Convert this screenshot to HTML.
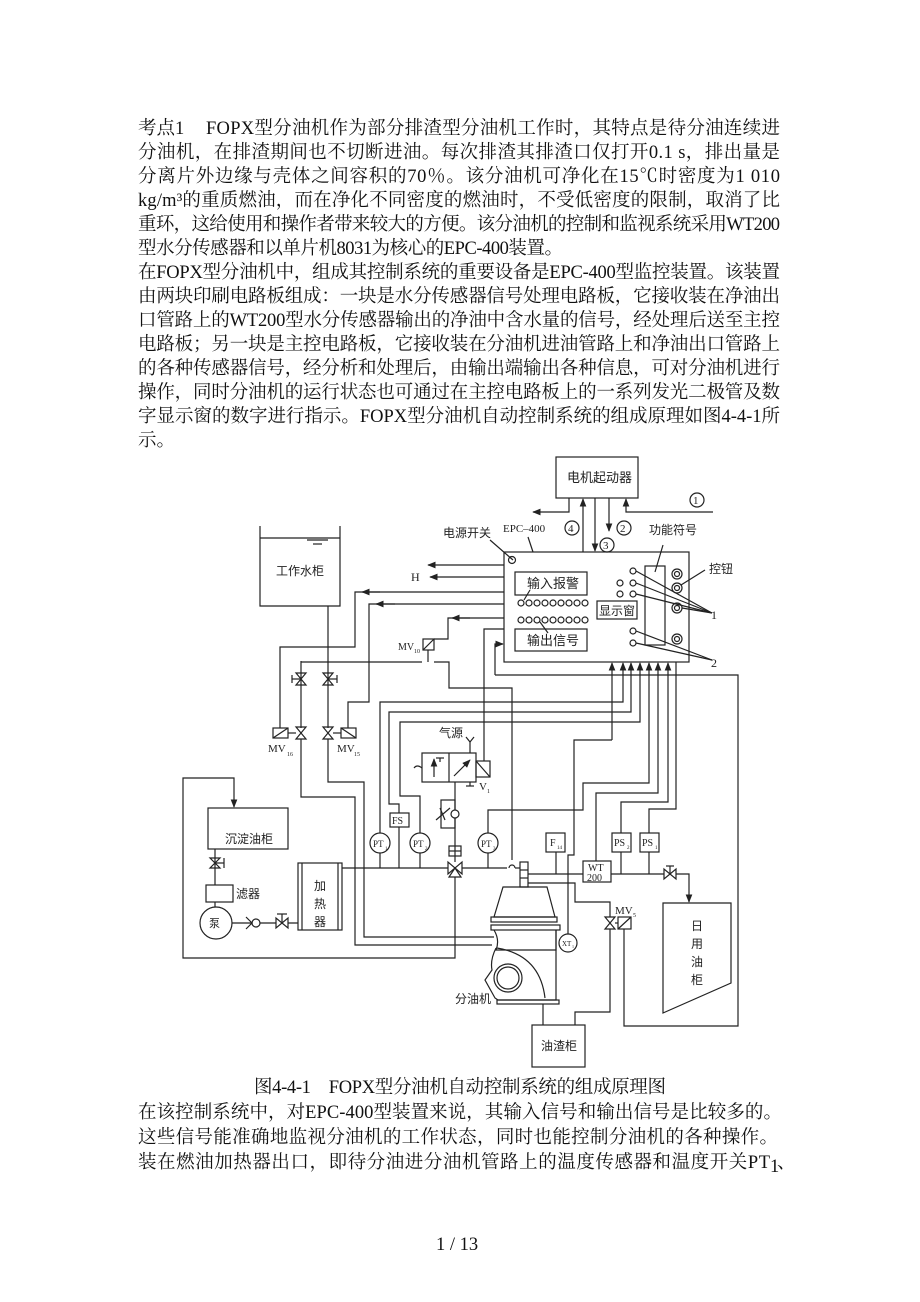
<!DOCTYPE html>
<html><head><meta charset="utf-8"><style>
html,body{margin:0;padding:0;background:#fff;}
svg{display:block;}
.t{font-family:"Liberation Serif","Noto Serif CJK SC",serif;font-size:18.5px;fill:#111;}
.d{font-family:"Liberation Serif","Noto Sans CJK SC",sans-serif;font-size:12px;fill:#222;}
</style></head><body>
<svg width="920" height="1302" viewBox="0 0 920 1302" xmlns="http://www.w3.org/2000/svg">
<defs>
<marker id="a" viewBox="0 0 10 10" refX="9" refY="5" markerWidth="7" markerHeight="7" orient="auto-start-reverse"><path d="M0,1 L10,5 L0,9 z" fill="#222"/></marker>
</defs>
<rect width="920" height="1302" fill="#fff"/>
<!-- body text -->
<text class="t" x="138" y="134">考点1</text>
<text class="t" x="206" y="134" textLength="574" lengthAdjust="spacing">FOPX型分油机作为部分排渣型分油机工作时，其特点是待分油连续进</text>
<text class="t" x="138" y="158" textLength="642" lengthAdjust="spacing">分油机，在排渣期间也不切断进油。每次排渣其排渣口仅打开0.1 s，排出量是</text>
<text class="t" x="138" y="182" textLength="642" lengthAdjust="spacing">分离片外边缘与壳体之间容积的70％。该分油机可净化在15℃时密度为1 010</text>
<text class="t" x="138" y="206" textLength="642" lengthAdjust="spacing">kg/m³的重质燃油，而在净化不同密度的燃油时，不受低密度的限制，取消了比</text>
<text class="t" x="138" y="230" textLength="642" lengthAdjust="spacing">重环，这给使用和操作者带来较大的方便。该分油机的控制和监视系统采用WT200</text>
<text class="t" x="138" y="254" textLength="425" lengthAdjust="spacing">型水分传感器和以单片机8031为核心的EPC-400装置。</text>
<text class="t" x="138" y="278" textLength="642" lengthAdjust="spacing">在FOPX型分油机中，组成其控制系统的重要设备是EPC-400型监控装置。该装置</text>
<text class="t" x="138" y="302" textLength="642" lengthAdjust="spacing">由两块印刷电路板组成：一块是水分传感器信号处理电路板，它接收装在净油出</text>
<text class="t" x="138" y="326" textLength="642" lengthAdjust="spacing">口管路上的WT200型水分传感器输出的净油中含水量的信号，经处理后送至主控</text>
<text class="t" x="138" y="350" textLength="642" lengthAdjust="spacing">电路板；另一块是主控电路板，它接收装在分油机进油管路上和净油出口管路上</text>
<text class="t" x="138" y="374" textLength="642" lengthAdjust="spacing">的各种传感器信号，经分析和处理后，由输出端输出各种信息，可对分油机进行</text>
<text class="t" x="138" y="398" textLength="642" lengthAdjust="spacing">操作，同时分油机的运行状态也可通过在主控电路板上的一系列发光二极管及数</text>
<text class="t" x="138" y="422" textLength="642" lengthAdjust="spacing">字显示窗的数字进行指示。FOPX型分油机自动控制系统的组成原理如图4-4-1所</text>
<text class="t" x="138" y="446">示。</text>
<text class="t" x="254" y="1093" textLength="412" lengthAdjust="spacing">图4-4-1　FOPX型分油机自动控制系统的组成原理图</text>
<text class="t" x="138" y="1118" textLength="644" lengthAdjust="spacing">在该控制系统中，对EPC-400型装置来说，其输入信号和输出信号是比较多的。</text>
<text class="t" x="138" y="1143" textLength="640" lengthAdjust="spacing">这些信号能准确地监视分油机的工作状态，同时也能控制分油机的各种操作。</text>
<text class="t" x="138" y="1168" textLength="632" lengthAdjust="spacing">装在燃油加热器出口，即待分油进分油机管路上的温度传感器和温度开关PT</text>
<text class="t" x="770" y="1172" font-size="11">1</text><text class="t" x="777" y="1168">、</text>
<text class="t" x="436" y="1250" font-size="16">1 / 13</text>

<g fill="none" stroke="#222" stroke-width="1.2">
<rect x="556" y="457" width="82" height="41"/>
<polyline points="569,498 569,512 533,512" marker-end="url(#a)"/>
<line x1="583" y1="552" x2="583" y2="499" marker-end="url(#a)"/>
<line x1="595" y1="498" x2="595" y2="551" marker-end="url(#a)"/>
<line x1="609" y1="498" x2="609" y2="531" marker-end="url(#a)"/>
<polyline points="713,512 626,512 626,499" marker-end="url(#a)"/>
<circle cx="697" cy="500" r="7"/><circle cx="572" cy="528" r="7"/><circle cx="624" cy="528" r="7"/><circle cx="607" cy="545" r="7"/>
<rect x="504" y="552" width="185" height="110"/>
<line x1="533" y1="552" x2="528" y2="537"/>
<line x1="513" y1="560" x2="490" y2="540"/>
<circle cx="512" cy="560" r="3.5"/>
<rect x="515" y="572" width="72" height="23"/>
<rect x="515" y="629" width="72" height="22"/>
<rect x="597" y="601" width="40" height="18"/>
<rect x="645" y="566" width="20" height="79"/>
<g>
<circle cx="521" cy="603" r="3"/><circle cx="529" cy="603" r="3"/><circle cx="537" cy="603" r="3"/><circle cx="545" cy="603" r="3"/><circle cx="553" cy="603" r="3"/><circle cx="561" cy="603" r="3"/><circle cx="569" cy="603" r="3"/><circle cx="577" cy="603" r="3"/><circle cx="585" cy="603" r="3"/>
<circle cx="521" cy="620" r="3"/><circle cx="529" cy="620" r="3"/><circle cx="537" cy="620" r="3"/><circle cx="545" cy="620" r="3"/><circle cx="553" cy="620" r="3"/><circle cx="561" cy="620" r="3"/><circle cx="569" cy="620" r="3"/><circle cx="577" cy="620" r="3"/><circle cx="585" cy="620" r="3"/>
</g>
<line x1="524" y1="600" x2="530" y2="590"/><line x1="540" y1="622" x2="548" y2="633"/>
<circle cx="633" cy="571" r="3"/><circle cx="633" cy="583" r="3"/><circle cx="633" cy="594" r="3"/><circle cx="620" cy="583" r="3"/><circle cx="620" cy="594" r="3"/><circle cx="633" cy="631" r="3"/><circle cx="633" cy="643" r="3"/>
<circle cx="677" cy="574" r="5"/><circle cx="677" cy="574" r="2.5"/>
<circle cx="677" cy="588" r="5"/><circle cx="677" cy="588" r="2.5"/>
<circle cx="677" cy="608" r="5"/><circle cx="677" cy="608" r="2.5"/>
<circle cx="677" cy="639" r="5"/><circle cx="677" cy="639" r="2.5"/>
<line x1="655" y1="572" x2="663" y2="545"/>
<line x1="681" y1="585" x2="705" y2="570"/>
<polyline points="636,571 712,613"/><polyline points="636,583 712,613"/><polyline points="636,594 712,613"/><line x1="682" y1="608" x2="712" y2="613"/>
<polyline points="636,631 712,660"/><polyline points="636,643 712,660"/>
<line x1="504" y1="565" x2="428" y2="565" marker-end="url(#a)"/>
<line x1="504" y1="577" x2="430" y2="577" marker-end="url(#a)"/>
<polyline points="504,592 355,592 355,647 280,647 280,728"/>
<line x1="380" y1="592" x2="362" y2="592" marker-end="url(#a)"/>
<polyline points="504,604 369,604 369,702 348,702 348,728"/>
<line x1="395" y1="604" x2="376" y2="604" marker-end="url(#a)"/>
<polyline points="504,618 448,618 448,639 434,639"/>
<line x1="470" y1="618" x2="452" y2="618" marker-end="url(#a)"/>
<polyline points="504,629 484,629 484,761"/>
<polyline points="495,675 495,644 503,644" marker-end="url(#a)"/>
<polyline points="495,675 738,675 738,1026 624,1026 624,929"/>
<polyline points="260,526 260,606 340,606 340,526"/>
<line x1="260" y1="538" x2="340" y2="538"/>
<line x1="307" y1="540" x2="328" y2="540"/><line x1="313" y1="544" x2="322" y2="544"/>
<line x1="328" y1="606" x2="328" y2="728"/>
<polyline points="301,661 301,728"/>
<line x1="301" y1="662" x2="422" y2="662"/>
<rect x="423" y="639" width="11" height="11"/><line x1="423" y1="650" x2="434" y2="639"/>
<line x1="428" y1="650" x2="428" y2="662"/>
<polyline points="434,662 449,662 449,688 512,688 512,860"/>
<path d="M296,673 L306,673 L296,685 L306,685 Z"/><line x1="292" y1="675" x2="292" y2="683"/><line x1="292" y1="679" x2="301" y2="679"/>
<path d="M323,673 L333,673 L323,685 L333,685 Z"/><line x1="337" y1="675" x2="337" y2="683"/><line x1="328" y1="679" x2="337" y2="679"/>
<path d="M296,727 L306,727 L296,739 L306,739 Z"/>
<path d="M323,727 L333,727 L323,739 L333,739 Z"/>
<rect x="273" y="728" width="15" height="10"/><line x1="273" y1="738" x2="288" y2="728"/><line x1="288" y1="733" x2="296" y2="733"/>
<rect x="341" y="728" width="15" height="10"/><line x1="341" y1="728" x2="356" y2="738"/><line x1="333" y1="733" x2="341" y2="733"/>
<polyline points="301,739 301,797 355,797 355,945 492,945"/>
<polyline points="328,739 328,782 364,782 364,937 494,937"/>
<polyline points="612,740 612,663" marker-end="url(#a)"/>
<polyline points="380,833 380,702 623,702 623,663" marker-end="url(#a)"/>
<polyline points="399,813 399,804 389,804 389,712 631,712 631,663" marker-end="url(#a)"/>
<polyline points="420,833 420,796 400,796 400,722 640,722 640,663" marker-end="url(#a)"/>
<polyline points="488,833 488,810 583,810 583,783 649,783 649,663" marker-end="url(#a)"/>
<polyline points="596,861 596,793 658,793 658,663" marker-end="url(#a)"/>
<polyline points="621,833 621,802 668,802 668,663" marker-end="url(#a)"/>
<polyline points="649,833 649,809 676,809 676,662"/>
<polyline points="612,740 574,740 574,855 568,855 568,934"/>
<polyline points="455,873 455,958 183,958 183,778 234,778 234,807" marker-end="url(#a)"/>
<rect x="208" y="808" width="80" height="41"/>
<line x1="215" y1="849" x2="215" y2="885"/>
<path d="M210,858 L220,858 L210,868 L220,868 Z"/><line x1="215" y1="863" x2="224" y2="863"/><line x1="224" y1="858" x2="224" y2="868"/>
<rect x="206" y="885" width="27" height="17"/>
<line x1="215" y1="902" x2="215" y2="907"/>
<circle cx="216" cy="923" r="16"/>
<line x1="232" y1="923" x2="298" y2="923"/>
<circle cx="256" cy="923" r="4" fill="#fff"/><polyline points="246,917 252,923 246,929"/>
<path d="M276,918 L276,928 L288,918 L288,928 Z" fill="#fff"/><line x1="282" y1="923" x2="282" y2="914"/><line x1="277" y1="914" x2="287" y2="914"/>
<rect x="298" y="863" width="44" height="67"/><line x1="302" y1="863" x2="302" y2="930"/><line x1="338" y1="863" x2="338" y2="930"/>
<line x1="342" y1="868" x2="507" y2="868"/>
<path d="M509,868 a3,3 0 0 1 6,0"/><line x1="515" y1="868" x2="520" y2="868"/>
<path d="M448,862 L448,874 L462,862 L462,874 Z" fill="#fff"/><path d="M449,877 L461,877 L455,868 Z" fill="#fff"/>
<circle cx="380" cy="843" r="10" fill="#fff"/><line x1="380" y1="853" x2="380" y2="868"/>
<circle cx="420" cy="843" r="10" fill="#fff"/><line x1="420" y1="853" x2="420" y2="868"/>
<circle cx="488" cy="843" r="10" fill="#fff"/><line x1="488" y1="853" x2="488" y2="868"/>
<rect x="390" y="813" width="19" height="14"/><line x1="399" y1="827" x2="399" y2="868"/>
<rect x="422" y="753" width="54" height="29"/><line x1="449" y1="753" x2="449" y2="782"/>
<line x1="434" y1="777" x2="434" y2="759" marker-end="url(#a)"/>
<line x1="454" y1="776" x2="470" y2="760" marker-end="url(#a)"/>
<line x1="440" y1="758" x2="440" y2="762"/><line x1="436" y1="758" x2="444" y2="758"/>
<path d="M414,768 q3,-4 8,0"/>
<rect x="476" y="761" width="14" height="16"/><line x1="476" y1="761" x2="490" y2="777"/>
<line x1="470" y1="753" x2="470" y2="742"/><line x1="466" y1="737" x2="470" y2="742"/><line x1="474" y1="737" x2="470" y2="742"/>
<line x1="470" y1="782" x2="470" y2="786"/><line x1="466" y1="786" x2="474" y2="786"/>
<line x1="455" y1="782" x2="455" y2="862"/>
<rect x="441" y="800" width="14" height="28"/>
<circle cx="455" cy="814" r="4" fill="#fff"/><line x1="436" y1="820" x2="450" y2="808"/><line x1="440" y1="808" x2="445" y2="820"/>
<rect x="449" y="846" width="12" height="10"/><line x1="449" y1="851" x2="461" y2="851"/>
<rect x="520" y="862" width="8" height="25"/><line x1="520" y1="870" x2="528" y2="870"/><line x1="520" y1="878" x2="528" y2="878"/>
<path d="M503,887 L547,887 L555,917 L494,917 Z"/>
<rect x="491" y="917" width="66" height="5"/><rect x="491" y="925" width="69" height="5"/>
<path d="M494,930 Q500,940 496,950 L556,950 L556,930"/>
<path d="M496,948 Q490,960 492,970 L485,980 L495,998 L498,1000 L556,1000 L556,930"/>
<path d="M497,948 Q540,955 545,998"/>
<circle cx="508" cy="978" r="14"/><circle cx="508" cy="978" r="11"/>
<rect x="497" y="1000" width="62" height="4"/>
<line x1="543" y1="1004" x2="543" y2="1025"/>
<circle cx="568" cy="943" r="9" fill="#fff"/>
<line x1="528" y1="874" x2="583" y2="874"/>
<rect x="546" y="833" width="19" height="19"/><line x1="556" y1="852" x2="556" y2="874"/>
<rect x="583" y="861" width="28" height="21"/>
<rect x="612" y="833" width="19" height="19"/><rect x="640" y="833" width="19" height="19"/>
<line x1="621" y1="852" x2="621" y2="874"/><line x1="649" y1="852" x2="649" y2="874"/>
<line x1="611" y1="874" x2="664" y2="874"/>
<path d="M664,869 L664,879 L676,869 L676,879 Z" fill="#fff"/><line x1="670" y1="874" x2="670" y2="866"/><line x1="666" y1="866" x2="674" y2="866"/>
<polyline points="676,874 689,874 689,902" marker-end="url(#a)"/>
<polyline points="528,883 575,883 575,902 610,902 610,917"/>
<path d="M605,917 L615,917 L605,929 L615,929 Z"/>
<rect x="618" y="917" width="13" height="12"/><line x1="618" y1="929" x2="631" y2="917"/><line x1="615" y1="923" x2="618" y2="923"/>
<polyline points="610,929 610,1012 575,1012 575,1025"/>
<rect x="532" y="1025" width="53" height="42"/>
<polygon points="663,903 731,903 731,983 663,1013"/>
</g>
<g class="d">
<text x="567" y="482" font-size="13">电机起动器</text>
<text x="693" y="504" font-size="11">1</text><text x="568" y="532" font-size="11">4</text><text x="620" y="532" font-size="11">2</text><text x="603" y="549" font-size="11">3</text>
<text x="503" y="532" font-size="11">EPC–400</text>
<text x="443" y="537">电源开关</text>
<text x="649" y="534">功能符号</text>
<text x="709" y="573">控钮</text>
<text x="711" y="619">1</text><text x="711" y="667">2</text>
<text x="527" y="588" font-size="13">输入报警</text>
<text x="527" y="645" font-size="13">输出信号</text>
<text x="599" y="615">显示窗</text>
<text x="411" y="581">H</text>
<text x="276" y="575" font-size="12">工作水柜</text>
<text x="398" y="650" font-size="10">MV</text><text x="414" y="653" font-size="6">10</text>
<text x="268" y="752" font-size="11">MV</text><text x="287" y="756" font-size="6">16</text>
<text x="337" y="752" font-size="11">MV</text><text x="354" y="756" font-size="6">15</text>
<text x="439" y="737">气源</text>
<text x="479" y="790" font-size="11">V</text><text x="487" y="793" font-size="6">1</text>
<text x="225" y="843">沉淀油柜</text>
<text x="236" y="898">滤器</text>
<text x="209" y="927" font-size="11">泵</text>
<text x="314" y="890">加</text><text x="314" y="908">热</text><text x="314" y="926">器</text>
<text x="373" y="847" font-size="9">PT</text><text x="385" y="850" font-size="5">1</text>
<text x="413" y="847" font-size="9">PT</text><text x="425" y="850" font-size="5">2</text>
<text x="481" y="847" font-size="9">PT</text><text x="493" y="850" font-size="5">3</text>
<text x="392" y="824" font-size="10">FS</text>
<text x="550" y="846" font-size="10">F</text><text x="557" y="849" font-size="5">14</text>
<text x="614" y="846" font-size="10">PS</text><text x="627" y="849" font-size="5">2</text>
<text x="642" y="846" font-size="10">PS</text><text x="655" y="849" font-size="5">1</text>
<text x="588" y="871" font-size="10">WT</text><text x="587" y="881" font-size="10">200</text>
<text x="562" y="946" font-size="7">XT</text><text x="572" y="948" font-size="4">1</text>
<text x="615" y="914" font-size="11">MV</text><text x="633" y="917" font-size="6">5</text>
<text x="455" y="1003">分油机</text>
<text x="541" y="1050">油渣柜</text>
<text x="691" y="930">日</text><text x="691" y="948">用</text><text x="691" y="966">油</text><text x="691" y="984">柜</text>
</g>
</svg>
</body></html>
